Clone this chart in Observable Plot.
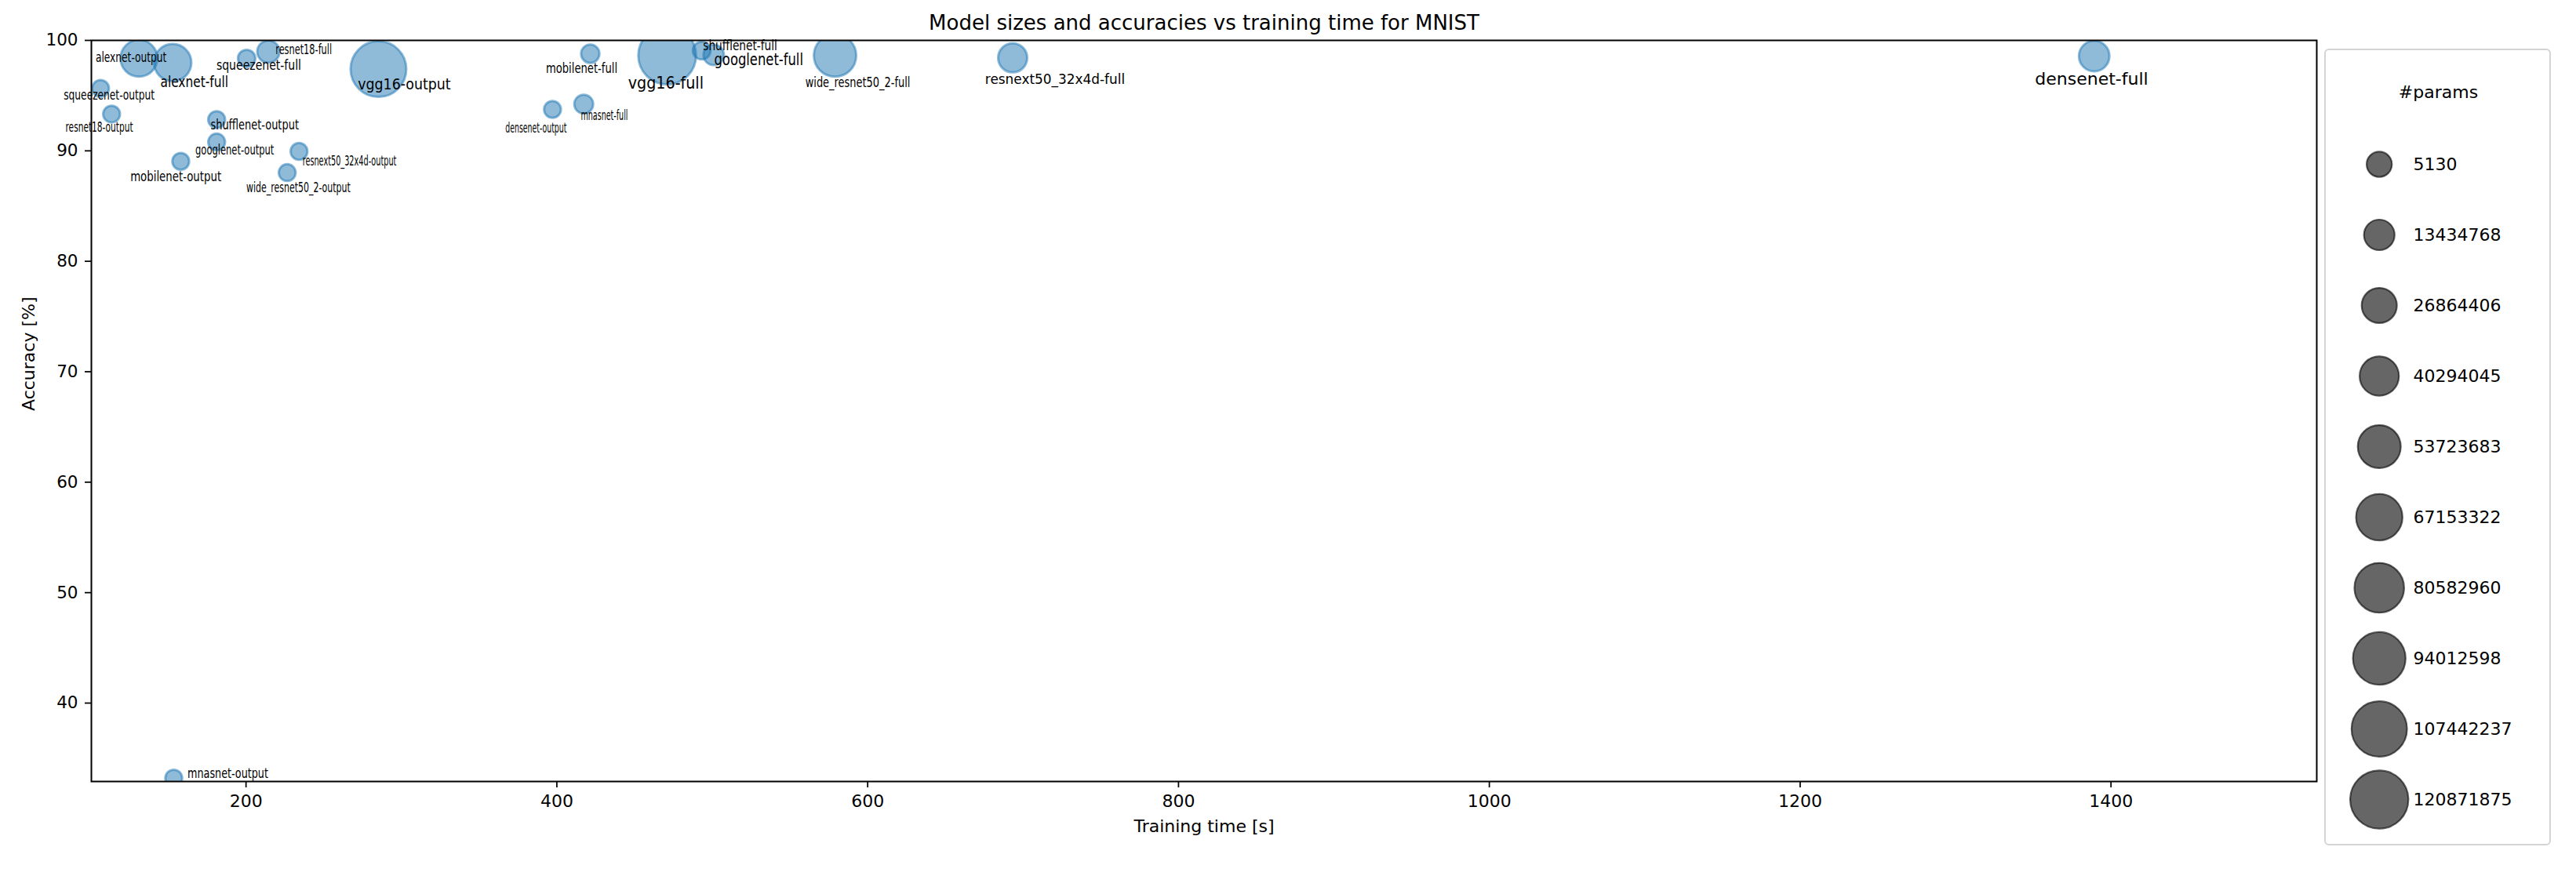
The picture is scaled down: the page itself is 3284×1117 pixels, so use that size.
<!DOCTYPE html>
<html>
<head>
<meta charset="utf-8">
<script src="https://cdn.jsdelivr.net/npm/d3@7"></script>
<script src="https://cdn.jsdelivr.net/npm/@observablehq/plot@0.6"></script>
<style>
  html, body { margin: 0; padding: 0; background: white; }
  #wrap { position: relative; width: 3284px; height: 1117px; overflow: hidden; font-family: "DejaVu Sans", sans-serif; }
  #main { position: absolute; left: 0; top: 0; }
  #legend { position: absolute; left: 2963px; top: 62px; width: 289px; height: 1016px; background: white; }
  #legendBox { position: absolute; left: 2963px; top: 62px; width: 289px; height: 1016px; box-sizing: border-box;
               border: 2.5px solid #d4d4d4; border-radius: 6px; pointer-events: none; }
</style>
</head>
<body>
<div id="wrap">
  <div id="main"></div>
  <div id="legend"></div>
  <div id="legendBox"></div>
</div>
<script>
// ---------------- data ----------------
const models = ["alexnet-output","alexnet-full","squeezenet-output","resnet18-output","squeezenet-full","resnet18-full",
  "shufflenet-output","googlenet-output","mobilenet-output","resnext50_32x4d-output","wide_resnet50_2-output","vgg16-output",
  "mobilenet-full","densenet-output","mnasnet-full","vgg16-full","shufflenet-full","googlenet-full",
  "wide_resnet50_2-full","resnext50_32x4d-full","densenet-full","mnasnet-output"];
const trainTime = [131.1, 152.8, 106.4, 113.5, 200.4, 214.4, 181.1, 181.1, 158.0, 234.1, 226.5, 285.2,
  421.5, 397.2, 417.3, 471.0, 493.2, 500.9, 579.0, 693.3, 1389.2, 153.5];
const accuracy = [98.38, 97.99, 95.65, 93.33, 98.37, 98.98, 92.83, 90.80, 89.05, 89.95, 88.03, 97.40,
  98.79, 93.75, 94.23, 98.63, 99.08, 98.68, 98.63, 98.42, 98.58, 33.21];
const params = [43600000, 45000000, 5130, 5130, 740554, 8900000, 10250, 10250, 12810, 20490, 20490, 111900000,
  2236682, 22090, 3115122, 120871875, 1263854, 5610154, 60800000, 23000394, 26494090, 12810];
const legendValues = [5130, 13434768, 26864406, 40294045, 53723683, 67153322, 80582960, 94012598, 107442237, 120871875];
const xTicks = [200, 400, 600, 800, 1000, 1200, 1400];
const yTicks = [40, 50, 60, 70, 80, 90, 100];

// ---------------- label styling (offset px, font size, horizontal stretch) ----------------
const labelStyle = {
  "alexnet-output": [-10, 5, 18, 0.68],
  "alexnet-full": [27.6, 31, 20, 0.77],
  "squeezenet-output": [11, 14, 18, 0.68],
  "resnet18-output": [-15.7, 22.6, 18, 0.59],
  "squeezenet-full": [15.5, 14.6, 18, 0.78],
  "resnet18-full": [45, 3.3, 18, 0.63],
  "shufflenet-output": [48.5, 12.3, 18, 0.72],
  "googlenet-output": [23, 15.7, 18, 0.64],
  "mobilenet-output": [-6.3, 25, 18, 0.74],
  "resnext50_32x4d-output": [64.3, 17.7, 18, 0.54],
  "wide_resnet50_2-output": [14.3, 24.7, 18, 0.61],
  "vgg16-output": [33, 26, 20, 0.87],
  "mobilenet-full": [-11, 24, 18, 0.73],
  "densenet-output": [-21, 29.6, 18, 0.52],
  "mnasnet-full": [26.3, 20.3, 18, 0.53],
  "vgg16-full": [-1.7, 42.7, 21, 0.91],
  "shufflenet-full": [49, 0, 18, 0.76],
  "googlenet-full": [57.4, 13.4, 21, 0.78],
  "wide_resnet50_2-full": [29, 40, 18, 0.72],
  "resnext50_32x4d-full": [54, 33.7, 18, 0.94],
  "densenet-full": [-3.3, 36.6, 22, 1.0],
  "mnasnet-output": [69, 0, 18, 0.71]
};

const rows = models.map((m, i) => ({name: m, time: trainTime[i], acc: accuracy[i], params: params[i]}));
const OFF = 13.767e6;      // size offset (area ~ offset + params)
const LOFF = 30.737e6;     // legend size offset
const maxP = d3.max(params);
const blue = "#1f77b4";
const font = "DejaVu Sans";

const labelMarks = rows.map(r => {
  const [dx, dy, fs] = labelStyle[r.name];
  return Plot.text([r], {x: "time", y: "acc", text: "name", dx, dy, fontSize: fs,
    lineAnchor: "bottom", textAnchor: "middle", fill: "black"});
});

const main = Plot.plot({
  width: 3284, height: 1117,
  marginLeft: 116, marginRight: 331, marginTop: 51, marginBottom: 121,
  style: {fontFamily: font, fontSize: "22px", background: "white", color: "black", overflow: "visible"},
  x: {domain: [100.5, 1532.4]},
  y: {domain: [32.9, 100]},
  r: {type: "sqrt", domain: [OFF, maxP + OFF], range: [10.75, 36.8]},
  marks: [
    Plot.dot(rows, {x: "time", y: "acc", r: d => d.params + OFF, fill: blue, fillOpacity: 0.5,
      stroke: blue, strokeOpacity: 0.5, strokeWidth: 3, clip: true, sort: null}),
    ...labelMarks,
    Plot.axisX({ticks: xTicks, tickSize: 8, tickPadding: 9, tickFormat: "d", strokeWidth: 1.75,
      fontSize: 22, label: null}),
    Plot.axisY({ticks: yTicks, tickSize: 8, tickPadding: 9, tickFormat: "d", strokeWidth: 1.75,
      fontSize: 21.5, label: null}),
    Plot.frame({stroke: "black", strokeWidth: 2}),
    Plot.text(["Model sizes and accuracies vs training time for MNIST"],
      {frameAnchor: "top", dy: -14, lineAnchor: "bottom", fontSize: 26}),
    Plot.text(["Training time [s]"], {frameAnchor: "bottom", dy: 64, lineAnchor: "bottom", fontSize: 22}),
    Plot.text(["Accuracy [%]"], {frameAnchor: "left", dx: -73, rotate: -90, lineAnchor: "bottom", fontSize: 22})
  ]
});

// horizontal compression of the point labels
main.querySelectorAll("text").forEach(t => {
  const st = labelStyle[t.textContent];
  if (!st || st[3] === 1) return;
  const s = st[3];
  const tr = t.getAttribute("transform");
  if (tr) t.setAttribute("transform", tr + ` scale(${s},1)`);
  else {
    const x = +(t.getAttribute("x") || 0), y = +(t.getAttribute("y") || 0);
    t.removeAttribute("x"); t.removeAttribute("y");
    t.setAttribute("transform", `translate(${x},${y}) scale(${s},1)`);
  }
});
document.getElementById("main").appendChild(main);

const legend = Plot.plot({
  width: 289, height: 1016,
  marginLeft: 0, marginRight: 149.6, marginTop: 0, marginBottom: 0,
  style: {fontFamily: font, fontSize: "22px", background: "white", color: "black", overflow: "visible"},
  y: {type: "point", domain: legendValues, range: [146.3, 956.8], padding: 0, axis: null},
  r: {type: "sqrt", domain: [legendValues[0] + LOFF, maxP + LOFF], range: [16.1, 37.1]},
  marks: [
    Plot.dot(legendValues, {y: d => d, r: d => d + LOFF, fill: "black", fillOpacity: 0.6,
      stroke: "black", strokeOpacity: 0.6, strokeWidth: 2.2, sort: null}),
    Plot.text(legendValues, {y: d => d, text: d => String(d), dx: 43.3, textAnchor: "start", fontSize: 22}),
    Plot.text(["#params"], {frameAnchor: "top", dx: 75.3, dy: 62.5, lineAnchor: "bottom", fontSize: 22})
  ]
});
document.getElementById("legend").appendChild(legend);
</script>
</body>
</html>
